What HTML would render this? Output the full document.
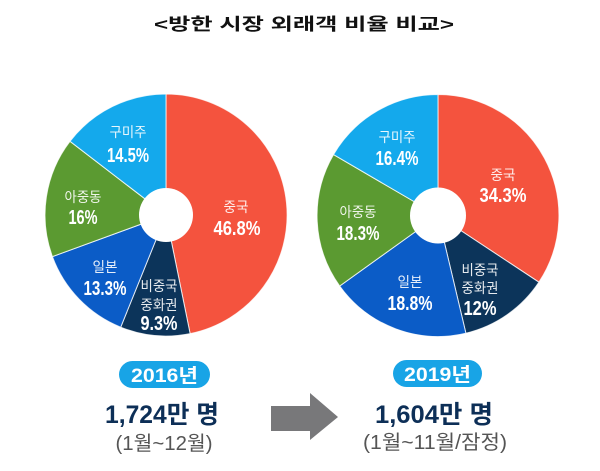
<!DOCTYPE html>
<html><head><meta charset="utf-8"><style>
html,body{margin:0;padding:0;background:#fff;}
svg{display:block;}
</style></head><body>
<svg width="600" height="471" viewBox="0 0 600 471" xmlns="http://www.w3.org/2000/svg" font-family="'Liberation Sans','Noto Sans CJK KR',sans-serif">
<rect width="600" height="471" fill="#fff"/>
<text x="154" y="30" font-size="17" font-weight="700" fill="#111" textLength="300" lengthAdjust="spacingAndGlyphs">&lt;방한 시장 외래객 비율 비교&gt;</text>

<!-- Left pie -->
<g stroke="#fff" stroke-width="1" stroke-opacity="0.8">
<path d="M166,215 L166,94 A121,121 0 0 1 190.1,333.6 Z" fill="#F4533E"/>
<path d="M166,215 L190.1,333.6 A121,121 0 0 1 120.7,327.2 Z" fill="#0C345A"/>
<path d="M166,215 L120.7,327.2 A121,121 0 0 1 52.4,256.6 Z" fill="#0B5CC7"/>
<path d="M166,215 L52.4,256.6 A121,121 0 0 1 70.0,141.3 Z" fill="#5B9A31"/>
<path d="M166,215 L70.0,141.3 A121,121 0 0 1 166,94 Z" fill="#14A9EC"/>
</g>
<circle cx="166" cy="215" r="27" fill="#fff"/>

<g fill="#fff" text-anchor="middle">
<text x="128" y="137" font-size="14" fill-opacity="0.9" textLength="37" lengthAdjust="spacingAndGlyphs">구미주</text>
<text x="128" y="162" font-size="20" font-weight="700" textLength="42" lengthAdjust="spacingAndGlyphs">14.5%</text>
<text x="236" y="212" font-size="14" fill-opacity="0.9" textLength="25" lengthAdjust="spacingAndGlyphs">중국</text>
<text x="237" y="235" font-size="20" font-weight="700" textLength="47" lengthAdjust="spacingAndGlyphs">46.8%</text>
<text x="83" y="202" font-size="14" fill-opacity="0.9" textLength="37" lengthAdjust="spacingAndGlyphs">아중동</text>
<text x="83" y="224" font-size="20" font-weight="700" textLength="29" lengthAdjust="spacingAndGlyphs">16%</text>
<text x="105" y="272" font-size="14" fill-opacity="0.9" textLength="25" lengthAdjust="spacingAndGlyphs">일본</text>
<text x="105" y="295" font-size="20" font-weight="700" textLength="43" lengthAdjust="spacingAndGlyphs">13.3%</text>
<text x="159" y="291" font-size="14" fill-opacity="0.9" textLength="37" lengthAdjust="spacingAndGlyphs">비중국</text>
<text x="159" y="310" font-size="14" fill-opacity="0.9" textLength="37" lengthAdjust="spacingAndGlyphs">중화권</text>
<text x="159" y="330" font-size="20" font-weight="700" textLength="37" lengthAdjust="spacingAndGlyphs">9.3%</text>
</g>

<!-- Right pie -->
<g stroke="#fff" stroke-width="1" stroke-opacity="0.8">
<path d="M438,215.5 L438,94.5 A121,121 0 0 1 538.9,282.2 Z" fill="#F4533E"/>
<path d="M438,215.5 L538.9,282.2 A121,121 0 0 1 465.9,333.2 Z" fill="#0C345A"/>
<path d="M438,215.5 L465.9,333.2 A121,121 0 0 1 339.7,286.0 Z" fill="#0B5CC7"/>
<path d="M438,215.5 L339.7,286.0 A121,121 0 0 1 333.5,154.6 Z" fill="#5B9A31"/>
<path d="M438,215.5 L333.5,154.6 A121,121 0 0 1 438,94.5 Z" fill="#14A9EC"/>
</g>
<circle cx="438" cy="215.5" r="28" fill="#fff"/>

<g fill="#fff" text-anchor="middle">
<text x="397" y="142" font-size="14" fill-opacity="0.9" textLength="37" lengthAdjust="spacingAndGlyphs">구미주</text>
<text x="397" y="165" font-size="20" font-weight="700" textLength="43" lengthAdjust="spacingAndGlyphs">16.4%</text>
<text x="503" y="180" font-size="14" fill-opacity="0.9" textLength="25" lengthAdjust="spacingAndGlyphs">중국</text>
<text x="503" y="202" font-size="20" font-weight="700" textLength="47" lengthAdjust="spacingAndGlyphs">34.3%</text>
<text x="358" y="217" font-size="14" fill-opacity="0.9" textLength="37" lengthAdjust="spacingAndGlyphs">아중동</text>
<text x="358" y="240" font-size="20" font-weight="700" textLength="43" lengthAdjust="spacingAndGlyphs">18.3%</text>
<text x="410" y="287" font-size="14" fill-opacity="0.9" textLength="25" lengthAdjust="spacingAndGlyphs">일본</text>
<text x="410" y="310" font-size="20" font-weight="700" textLength="45" lengthAdjust="spacingAndGlyphs">18.8%</text>
<text x="480" y="275" font-size="14" fill-opacity="0.9" textLength="37" lengthAdjust="spacingAndGlyphs">비중국</text>
<text x="480" y="293" font-size="14" fill-opacity="0.9" textLength="37" lengthAdjust="spacingAndGlyphs">중화권</text>
<text x="480" y="315" font-size="20" font-weight="700" textLength="33" lengthAdjust="spacingAndGlyphs">12%</text>
</g>

<!-- Bottom left -->
<rect x="119" y="361" width="91" height="27" rx="13.5" fill="#18A4E6"/>
<text x="164.5" y="382" font-size="19" font-weight="700" fill="#fff" text-anchor="middle" textLength="67" lengthAdjust="spacingAndGlyphs">2016년</text>
<text x="162" y="423" font-size="25" font-weight="700" fill="#0D2F57" text-anchor="middle" textLength="114" lengthAdjust="spacingAndGlyphs">1,724만 명</text>
<text x="164" y="450" font-size="20" fill="#555" text-anchor="middle" textLength="97" lengthAdjust="spacingAndGlyphs">(1월~12월)</text>

<!-- Arrow -->
<path d="M271,406 L310,406 L310,393 L338,417 L310,440 L310,431 L271,431 Z" fill="#78787A"/>

<!-- Bottom right -->
<rect x="393" y="360" width="89" height="27" rx="13.5" fill="#18A4E6"/>
<text x="437.5" y="381" font-size="19" font-weight="700" fill="#fff" text-anchor="middle" textLength="67" lengthAdjust="spacingAndGlyphs">2019년</text>
<text x="434" y="423" font-size="25" font-weight="700" fill="#0D2F57" text-anchor="middle" textLength="118" lengthAdjust="spacingAndGlyphs">1,604만 명</text>
<text x="435" y="449" font-size="20" fill="#555" text-anchor="middle" textLength="144" lengthAdjust="spacingAndGlyphs">(1월~11월/잠정)</text>
</svg>
</body></html>
